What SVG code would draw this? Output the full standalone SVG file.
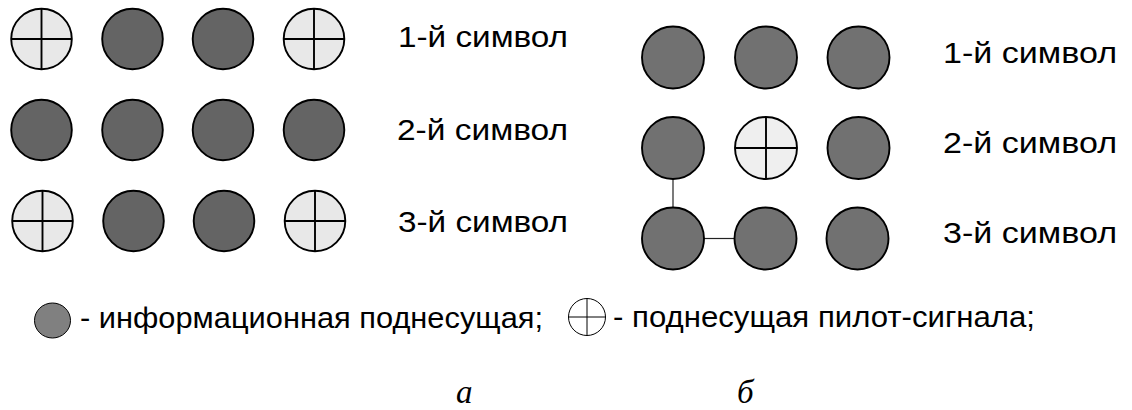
<svg xmlns="http://www.w3.org/2000/svg" width="1132" height="410" viewBox="0 0 1132 410">
<defs>
<style>
.info{fill:#646464;stroke:#000;stroke-width:1.9}
.infoR{fill:#717171;stroke:#000;stroke-width:1.9}
.pilot{fill:#e8e8e8;stroke:#000;stroke-width:1.9}
.pilotR{fill:#efefef;stroke:#000;stroke-width:1.9}
.cross{stroke:#000;stroke-width:1.9}
.lbl{font-family:"Liberation Sans",Arial,sans-serif;font-size:29px;fill:#000}
.cap{font-family:"Liberation Serif","Times New Roman",serif;font-style:italic;font-size:33px;fill:#000}
.conn{stroke:#222;stroke-width:1.2;fill:none}
</style>
</defs>
<rect width="1132" height="410" fill="#fff"/>
<g id="a-r1c1"><circle class="pilot" cx="41.5" cy="39" r="30.3"/><line class="cross" x1="11.2" y1="39" x2="71.8" y2="39"/><line class="cross" x1="41.5" y1="8.7" x2="41.5" y2="69.3"/></g>
<g id="a-r1c2"><circle class="info" cx="132.5" cy="39" r="30.3"/></g>
<g id="a-r1c3"><circle class="info" cx="223" cy="39" r="30.3"/></g>
<g id="a-r1c4"><circle class="pilot" cx="314" cy="39" r="30.3"/><line class="cross" x1="283.7" y1="39" x2="344.3" y2="39"/><line class="cross" x1="314" y1="8.7" x2="314" y2="69.3"/></g>
<g id="a-r2c1"><circle class="info" cx="41.5" cy="130" r="30.3"/></g>
<g id="a-r2c2"><circle class="info" cx="132.5" cy="130" r="30.3"/></g>
<g id="a-r2c3"><circle class="info" cx="223" cy="130" r="30.3"/></g>
<g id="a-r2c4"><circle class="info" cx="314" cy="130" r="30.3"/></g>
<g id="a-r3c1"><circle class="pilot" cx="42.5" cy="221" r="30.3"/><line class="cross" x1="12.2" y1="221" x2="72.8" y2="221"/><line class="cross" x1="42.5" y1="190.7" x2="42.5" y2="251.3"/></g>
<g id="a-r3c2"><circle class="info" cx="133.5" cy="221" r="30.3"/></g>
<g id="a-r3c3"><circle class="info" cx="224" cy="221" r="30.3"/></g>
<g id="a-r3c4"><circle class="pilot" cx="315" cy="221" r="30.3"/><line class="cross" x1="284.7" y1="221" x2="345.3" y2="221"/><line class="cross" x1="315" y1="190.7" x2="315" y2="251.3"/></g>
<g id="a-labels">
<text class="lbl" x="398" y="47" textLength="170" lengthAdjust="spacingAndGlyphs">1-й символ</text>
<text class="lbl" x="397" y="140" textLength="171" lengthAdjust="spacingAndGlyphs">2-й символ</text>
<text class="lbl" x="398" y="232" textLength="170" lengthAdjust="spacingAndGlyphs">3-й символ</text>
</g>
<g id="connectors">
<line class="conn" x1="673" y1="179" x2="673" y2="208"/>
<line class="conn" x1="704" y1="238.5" x2="735" y2="238.5"/>
</g>
<g id="b-r1c1"><circle class="infoR" cx="673" cy="57.5" r="31"/></g>
<g id="b-r1c2"><circle class="infoR" cx="766" cy="57.5" r="31"/></g>
<g id="b-r1c3"><circle class="infoR" cx="858.5" cy="57.5" r="31"/></g>
<g id="b-r2c1"><circle class="infoR" cx="673" cy="148" r="31"/></g>
<g id="b-r2c2"><circle class="pilotR" cx="766" cy="148" r="31"/><line class="cross" x1="735" y1="148" x2="797" y2="148"/><line class="cross" x1="766" y1="117" x2="766" y2="179"/></g>
<g id="b-r2c3"><circle class="infoR" cx="858.5" cy="148" r="31"/></g>
<g id="b-r3c1"><circle class="infoR" cx="673" cy="238.5" r="31"/></g>
<g id="b-r3c2"><circle class="infoR" cx="765.5" cy="238.5" r="31"/></g>
<g id="b-r3c3"><circle class="infoR" cx="857.5" cy="238.5" r="31"/></g>
<g id="b-labels">
<text class="lbl" x="943" y="63" textLength="174" lengthAdjust="spacingAndGlyphs">1-й символ</text>
<text class="lbl" x="943" y="153" textLength="174" lengthAdjust="spacingAndGlyphs">2-й символ</text>
<text class="lbl" x="943" y="243" textLength="174" lengthAdjust="spacingAndGlyphs">3-й символ</text>
</g>
<g id="legend-info"><ellipse cx="52.5" cy="320.5" rx="18" ry="17.5" fill="#808080" stroke="#000" stroke-width="1"/>
<text class="lbl" x="80" y="328" textLength="463" lengthAdjust="spacingAndGlyphs">- информационная поднесущая;</text></g>
<g id="legend-pilot"><circle cx="587" cy="317" r="18.5" fill="#fff" stroke="#000" stroke-width="1"/><line x1="568.5" y1="317" x2="605.5" y2="317" stroke="#000" stroke-width="1"/><line x1="587" y1="298.5" x2="587" y2="335.5" stroke="#000" stroke-width="1"/>
<text class="lbl" x="613" y="327" textLength="422" lengthAdjust="spacingAndGlyphs">- поднесущая пилот-сигнала;</text></g>
<g id="captions">
<text class="cap" x="456" y="403">а</text>
<text class="cap" x="737" y="403">б</text>
</g>
</svg>
